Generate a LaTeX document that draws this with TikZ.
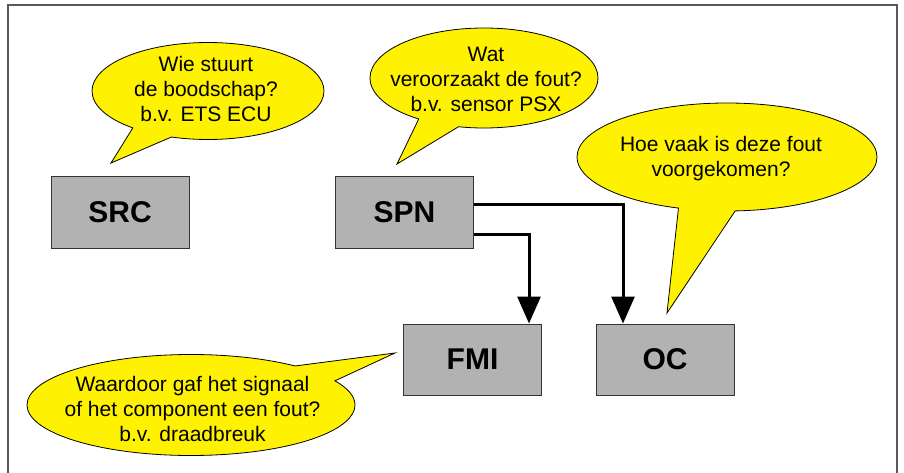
\documentclass[tikz,border=0pt]{standalone}
\usepackage{fontspec}
\setmainfont{Liberation Sans}
\usetikzlibrary{
  arrows.meta,
  shapes.callouts
}

\begin{document}
\begin{tikzpicture}[x=1pt, y=-1pt,
  field/.style = {shape=rectangle, draw=black!80, line width=1pt,
    fill=black!30, minimum width=138pt, minimum height=71pt,
    font=\fontsize{30}{36}\selectfont\bfseries},
  bubble/.style = {ellipse callout, draw=black, line width=0.8pt,
    fill=yellow, inner sep=0pt, callout pointer arc=22},
  bubbletext/.style = {align=center, inner sep=0pt,
    font=\fontsize{21}{25}\selectfont},
  flow/.style = {draw=black, line width=3pt,
    -{Triangle[length=27pt,width=23pt]}}]
  \useasboundingbox (0,0) rectangle (904,473);
  \draw[black!65, line width=1.5pt] (8,473) -- (8,5) -- (897,5) -- (897,473);

  \node[field] (src) at (120,212.5) {SRC};
  \node[field] (spn) at (404.5,212.5) {SPN};
  \node[field] (fmi) at (472.5,359.5) {FMI};
  \node[field] (oc) at (665,359.5) {OC};

  \draw[flow] ([yshift=8.5pt]spn.east) -| ([xshift=-42pt]oc.north);
  \draw[flow] ([yshift=-21.5pt]spn.east) -| ([xshift=56.5pt]fmi.north);

  \coordinate (wietip) at (111,163);
  \coordinate (wattip) at (397,164);
  \coordinate (hoetip) at (667,313);
  \coordinate (waartip) at (395,353);

  \node[bubble, minimum width=232pt, minimum height=97pt,
    callout absolute pointer={(wietip)}] (wie) at (208,91) {};
  \node[bubbletext] (wietext) at (206,89.2)
    {Wie stuurt\\de boodschap?\\b.v. ETS ECU};

  \node[bubble, minimum width=228pt, minimum height=100pt,
    callout absolute pointer={(wattip)}] (wat) at (484,78) {};
  \node[bubbletext] (wattext) at (486,79)
    {Wat\\veroorzaakt de fout?\\b.v. sensor PSX};

  \node[bubble, minimum width=300pt, minimum height=108pt,
    callout absolute pointer={(hoetip)}] (hoe) at (727,157) {};
  \node[bubbletext] (hoetext) at (721,158.5)
    {Hoe vaak is deze fout\\voorgekomen?};

  \node[bubble, minimum width=328pt, minimum height=101pt,
    callout absolute pointer={(waartip)}] (waar) at (191,405) {};
  \node[bubbletext] (waartext) at (192.5,408.5)
    {Waardoor gaf het signaal\\of het component een fout?\\b.v. draadbreuk};
\end{tikzpicture}
\end{document}
